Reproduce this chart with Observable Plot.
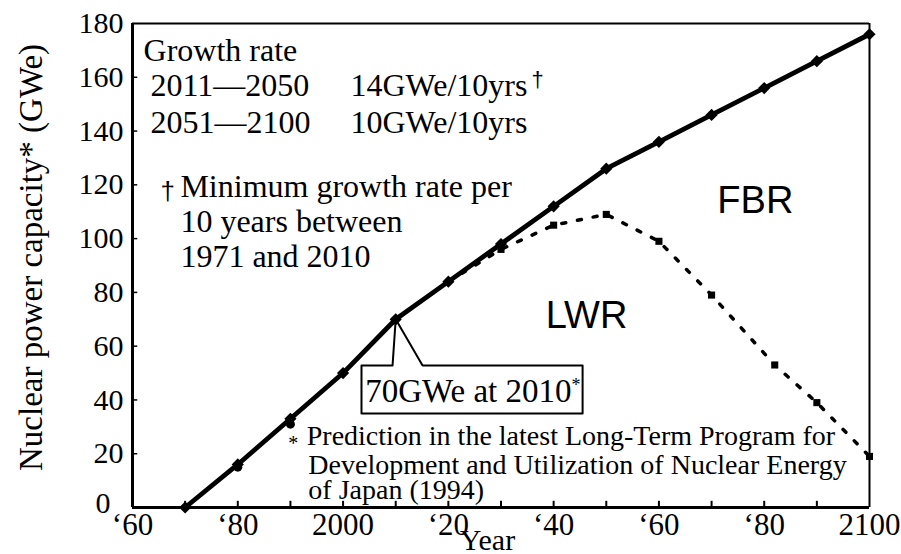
<!DOCTYPE html>
<html><head><meta charset="utf-8">
<script src="https://cdn.jsdelivr.net/npm/d3@7"></script>
<script src="https://cdn.jsdelivr.net/npm/@observablehq/plot@0.6"></script>
<style>body{margin:0;background:#fff}</style>
</head><body><div id="chart"></div>
<script>
// ---- data ----
const totalYears = [1970,1980,1990,2000,2010,2020,2030,2040,2050,2060,2070,2080,2090,2100];
const totalCapacity = [0,16,33,50,70,84,98,112,126,136,146,156,166,176];
const actualYears = [1980,1990];
const actualCapacity = [15,31];
const lwrYears = [2020,2030,2040,2050,2060,2070,2082,2090,2100];
const lwrCapacity = [84,96,105,109,99,79,53,39,19];
const xTickValues = [1960,1980,2000,2020,2040,2060,2080,2100];
const xTickLabels = ["\u201860","\u201880","2000","\u201820","\u201840","\u201860","\u201880","2100"];
const xMinorTicks = [1970,1980,1990,2000,2010,2020,2030,2040,2050,2060,2070,2080,2090];
const yTickValues = [20,40,60,80,100,120,140,160,180];
const yZeroTick = [0];
const yMinorTicks = [20,40,60,80,100,120,140,160];

// annotations (data units)
const growthTexts = ["Growth rate","2011\u20142050","14GWe/10yrs","2051\u20142100","10GWe/10yrs"];
const growthX = [1962.1,1963.4,2001.4,1963.4,2001.4];
const growthY = [165.9,153.2,153.2,139.1,139.1];
const noteTexts = ["Minimum growth rate per","10 years between","1971 and 2010"];
const noteX = [1969.1,1969.1,1969.1];
const noteY = [115.3,102.3,89.3];
const daggerX = [1965.3,2035.8];
const daggerY = [114.2,156.2];
const footTexts = ["Prediction in the latest Long-Term Program for","Development and Utilization of Nuclear Energy","of Japan (1994)"];
const footX = [1993.1,1993.4,1993.4];
const footY = [23.1,12.6,3.3];
const calloutX = [2010,2009.4,2003.5,2003.5,2045.5,2045.5,2015.1,2010];
const calloutY = [70,52.8,52.8,35,35,52.8,52.8,70];

const total = totalYears.map((x,i)=>({x, y: totalCapacity[i]}));
const actual = actualYears.map((x,i)=>({x, y: actualCapacity[i]}));
const lwr = lwrYears.map((x,i)=>({x, y: lwrCapacity[i]}));
const growth = growthTexts.map((t,i)=>({t, x: growthX[i], y: growthY[i]}));
const notes = noteTexts.map((t,i)=>({t, x: noteX[i], y: noteY[i]}));
const daggers = daggerX.map((x,i)=>({x, y: daggerY[i], s: i===0 ? 26 : 22}));
const foot = footTexts.map((t,i)=>({t, x: footX[i], y: footY[i]}));
const callout = calloutX.map((x,i)=>({x, y: calloutY[i]}));
const xLabel = new Map(xTickValues.map((v,i)=>[v, xTickLabels[i]]));

const serif = "Liberation Serif, Times New Roman, serif";
const sans = "Liberation Sans, Arial, sans-serif";

const chart = Plot.plot({
  width: 901, height: 554,
  marginLeft: 132, marginRight: 32, marginTop: 23, marginBottom: 47,
  style: {fontFamily: serif, background: "#fff", color: "#000"},
  x: {domain: [1960, 2100]},
  y: {domain: [0, 180]},
  marks: [
    Plot.axisX({ticks: xTickValues, tickFormat: d => xLabel.get(d), tickSize: 0, tickPadding: 5, fontSize: 31, label: null}),
    Plot.axisY({ticks: yTickValues, tickSize: 0, tickPadding: 9, fontSize: 30, label: null}),
    Plot.axisY({ticks: yZeroTick, tickSize: 0, tickPadding: 22, fontSize: 30, label: null, dy: -4}),
    // frame
    Plot.ruleY([180], {stroke: "#000", strokeWidth: 2}),
    Plot.ruleX([2100], {stroke: "#000", strokeWidth: 2}),
    Plot.ruleX(xMinorTicks, {y1: 0, y2: 2.3, stroke: "#000", strokeWidth: 2}),
    Plot.ruleY(yMinorTicks, {x1: 1960, x2: 1961, stroke: "#000", strokeWidth: 1.5}),
    Plot.ruleY([0], {stroke: "#000", strokeWidth: 3}),
    Plot.ruleX([1960], {stroke: "#000", strokeWidth: 3}),
    // LWR dotted
    Plot.line(lwr, {x: "x", y: "y", stroke: "#000", strokeWidth: 3.5, strokeDasharray: "4 12"}),
    Plot.dot(lwr.slice(1), {x: "x", y: "y", symbol: "square", r: 4, fill: "#000"}),
    // total solid
    Plot.line(total, {x: "x", y: "y", stroke: "#000", strokeWidth: 4.8}),
    Plot.dot(total, {x: "x", y: "y", symbol: "diamond2", r: 5.5, fill: "#000"}),
    Plot.dot(actual, {x: "x", y: "y", r: 4.5, fill: "#000"}),
    // callout
    Plot.line(callout, {x: "x", y: "y", stroke: "#000", strokeWidth: 2, curve: "linear"}),
    Plot.text(["70GWe at 2010"], {x: 2004.2, y: 39.05, textAnchor: "start", lineAnchor: "bottom", fontSize: 33, fill: "#000"}),
    Plot.text(["*"], {x: 2043.4, y: 43.5, textAnchor: "start", lineAnchor: "bottom", fontSize: 18, fill: "#000"}),
    // growth block
    Plot.text(growth, {x: "x", y: "y", text: "t", textAnchor: "start", lineAnchor: "bottom", fontSize: 32, fill: "#000"}),
    Plot.text(notes, {x: "x", y: "y", text: "t", textAnchor: "start", lineAnchor: "bottom", fontSize: 32, fill: "#000"}),
    Plot.text(daggers, {x: "x", y: "y", text: () => "\u2020", fontSize: "s", textAnchor: "start", lineAnchor: "bottom", fontFamily: sans, fill: "#000"}),
    // footnote
    Plot.text(["*"], {x: 1989.6, y: 21.5, textAnchor: "start", lineAnchor: "bottom", fontSize: 20, fill: "#000"}),
    Plot.text(foot, {x: "x", y: "y", text: "t", textAnchor: "start", lineAnchor: "bottom", fontSize: 28, fill: "#000"}),
    // region labels
    Plot.text(["FBR"], {x: 2071.1, y: 109.7, textAnchor: "start", lineAnchor: "bottom", fontSize: 38, fontFamily: sans, fill: "#000"}),
    Plot.text(["LWR"], {x: 2038.5, y: 66.6, textAnchor: "start", lineAnchor: "bottom", fontSize: 38, fontFamily: sans, fill: "#000"}),
    // axis titles
    Plot.text(["Nuclear power capacity* (GWe)"], {frameAnchor: "left", textAnchor: "middle", dx: -101, dy: -8, rotate: -90, fontSize: 33, fill: "#000"}),
    Plot.text(["Year"], {frameAnchor: "bottom", textAnchor: "middle", dx: -13.5, dy: 42, lineAnchor: "bottom", fontSize: 30, fill: "#000"})
  ]
});
document.getElementById("chart").appendChild(chart);
</script>
</body></html>
